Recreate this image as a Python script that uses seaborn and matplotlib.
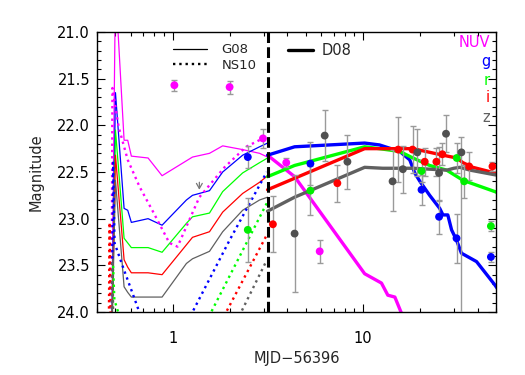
import numpy as np
import pandas as pd
import seaborn as sns
import matplotlib
matplotlib.use("Agg")
import matplotlib.pyplot as plt
from matplotlib import ticker

bands = ["NUV", "g", "r", "i", "z"]
line_colors = {"NUV": "#ff00ff", "g": "#0000ff", "r": "#00ff00", "i": "#ff0000", "z": "#606060"}
point_colors = {"NUV": "#ff00ff", "g": "#0000ff", "r": "#00ee00", "i": "#ff0000", "z": "#505050"}

# G08 models (thin solid), same epochs for every band
g08_t = [0.476, 0.50, 0.555, 0.58, 0.606, 0.742, 0.879, 1.18, 1.27, 1.56, 1.83, 2.33, 2.86, 3.15]
g08_nuv = [24.5, 20.5, 22.16, 22.16, 22.33, 22.35, 22.54, 22.38, 22.34, 22.30, 22.22, 22.26, 22.30, 22.34]
g08_g = [24.5, 21.65, 22.89, 22.91, 23.04, 23.00, 23.07, 22.80, 22.75, 22.70, 22.50, 22.32, 22.23, 22.19]
g08_r = [24.5, 22.05, 23.21, 23.26, 23.31, 23.31, 23.36, 23.05, 22.98, 22.94, 22.71, 22.51, 22.40, 22.35]
g08_i = [24.5, 22.32, 23.44, 23.52, 23.58, 23.58, 23.60, 23.28, 23.20, 23.14, 22.93, 22.73, 22.61, 22.54]
g08_z = [24.5, 22.59, 23.73, 23.79, 23.84, 23.84, 23.84, 23.48, 23.43, 23.35, 23.14, 22.91, 22.80, 22.77]

# NS10 models (dotted)
ns10_t_nuv = [0.476, 0.482, 0.52, 0.58, 0.67, 0.79, 0.96, 1.06, 1.38, 1.87, 2.43, 2.98]
ns10_nuv = [24.5, 21.6, 22.02, 22.37, 22.66, 22.93, 23.26, 23.30, 22.77, 22.45, 22.23, 22.14]
ns10_t_g = [0.476, 0.486, 0.4945, 0.55, 0.60, 0.67, 0.90, 1.27, 1.99, 3.12]
ns10_g = [24.5, 22.4, 23.26, 23.53, 23.74, 24.01, 24.6, 24.0, 23.23, 22.50]
ns10_t_r = [0.476, 0.486, 0.4935, 0.52, 1.0, 1.593, 3.12]
ns10_r = [24.5, 23.5, 23.87, 24.02, 24.6, 24.0, 22.835]
ns10_t_i = [0.46, 0.466, 0.474, 1.2, 1.91, 3.12]
ns10_i = [24.5, 23.04, 24.5, 24.6, 24.0, 23.175]
ns10_t_z = [0.476, 0.482, 0.49, 1.5, 2.29, 3.12]
ns10_z = [24.5, 23.45, 24.5, 24.6, 24.0, 23.445]

# D08 models (thick solid)
d08_t_nuv = [3.15, 4.37, 10.2, 12.5, 13.5, 14.7, 15.9, 17.0]
d08_nuv = [22.32, 22.55, 23.59, 23.69, 23.82, 23.84, 24.01, 24.3]
d08_t_g = [3.15, 4.37, 10.2, 12.2, 15.6, 17.6, 18.7, 19.9, 22.4, 25.3, 26.3, 27.9, 29.2, 31.0, 32.9, 39.5, 49.3, 55]
d08_g = [22.32, 22.23, 22.19, 22.21, 22.28, 22.37, 22.51, 22.60, 22.75, 22.89, 22.96, 22.96, 23.12, 23.23, 23.37, 23.46, 23.71, 23.85]
d08_t_r = [3.15, 4.37, 10.2, 12.2, 15.6, 18.3, 22.4, 27.5, 33.6, 49.3, 55]
d08_r = [22.55, 22.43, 22.23, 22.25, 22.28, 22.35, 22.43, 22.48, 22.59, 22.71, 22.75]
d08_t_i = [3.15, 10.2, 18.3, 26.3, 31.1, 33.5, 37.8, 49.3, 55]
d08_i = [22.69, 22.25, 22.25, 22.32, 22.35, 22.40, 22.45, 22.51, 22.53]
d08_t_z = [3.15, 4.37, 10.2, 12.7, 18.3, 27.6, 30.0, 32.3, 36.5, 49.3, 55]
d08_z = [22.92, 22.77, 22.45, 22.46, 22.46, 22.48, 22.46, 22.45, 22.48, 22.53, 22.54]

# photometry
nuv_t = [1.02, 1.99, 2.98, 3.95, 5.92]
nuv_mag = [21.57, 21.59, 22.14, 22.40, 23.35]
nuv_err = [0.06, 0.07, 0.10, 0.05, 0.12]
g_t = [2.48, 5.29, 20.3, 25.1, 31.0, 47.0]
g_mag = [22.34, 22.41, 22.69, 22.98, 23.21, 23.41]
g_err = [0.12, 0.23, 0.16, 0.18, 0.26, 0.05]
r_t = [2.48, 5.29, 20.3, 31.1, 34.0, 47.0]
r_mag = [23.12, 22.70, 22.49, 22.35, 22.60, 23.08]
r_err = [0.34, 0.26, 0.12, 0.16, 0.18, 0.05]
i_t = [3.36, 7.33, 15.3, 18.2, 21.1, 24.3, 26.1, 36.1, 47.9]
i_mag = [23.06, 22.62, 22.26, 22.26, 22.39, 22.39, 22.31, 22.44, 22.44]
i_err = [0.30, 0.20, 0.35, 0.25, 0.15, 0.15, 0.12, 0.15, 0.05]
z_t = [4.37, 6.29, 8.28, 14.3, 16.2, 19.3, 25.1, 27.3, 32.9]
z_mag = [23.16, 22.11, 22.39, 22.60, 22.47, 22.29, 22.51, 22.09, 22.29]
z_err_lo = [0.63, 0.27, 0.29, 0.34, 0.25, 0.25, 0.28, 0.20, 0.16]
z_err_hi = [0.63, 0.27, 0.29, 0.32, 0.25, 0.25, 0.30, 0.20, 2.0]

limit_t = [1.38]
limit_mag = [22.58]

shock_break = 3.16


def long_form(ts, ms):
    rows = []
    for b, t, m in zip(bands, ts, ms):
        rows.append(pd.DataFrame({"t": t, "mag": m, "band": b}))
    return pd.concat(rows, ignore_index=True)


g08 = long_form([g08_t] * 5, [g08_nuv, g08_g, g08_r, g08_i, g08_z])
ns10 = long_form([ns10_t_nuv, ns10_t_g, ns10_t_r, ns10_t_i, ns10_t_z],
                 [ns10_nuv, ns10_g, ns10_r, ns10_i, ns10_z])
d08 = long_form([d08_t_nuv, d08_t_g, d08_t_r, d08_t_i, d08_t_z],
                [d08_nuv, d08_g, d08_r, d08_i, d08_z])
pts = long_form([nuv_t, g_t, r_t, i_t, z_t], [nuv_mag, g_mag, r_mag, i_mag, z_mag])

sns.set_style("ticks")
plt.rcParams["font.family"] = ["DejaVu Sans"]
plt.rcParams["font.size"] = 10.5

fig = plt.figure(figsize=(5.25, 3.75), dpi=100)
ax = fig.add_axes([0.1848, 0.168, 0.76, 0.7467])

sns.lineplot(data=g08, x="t", y="mag", hue="band", palette=line_colors, sort=False,
             estimator=None, lw=0.9, legend=False, ax=ax)
sns.lineplot(data=ns10, x="t", y="mag", hue="band", palette=line_colors, sort=False,
             estimator=None, lw=1.7, linestyle=":", legend=False, ax=ax)
sns.lineplot(data=d08, x="t", y="mag", hue="band", palette=line_colors, sort=False,
             estimator=None, lw=2.4, legend=False, ax=ax)

ax.axvline(shock_break, color="k", lw=2.2, dashes=(3.5, 1.4), zorder=5)

for t, m, e in [(nuv_t, nuv_mag, nuv_err), (g_t, g_mag, g_err), (r_t, r_mag, r_err),
                (i_t, i_mag, i_err), (z_t, z_mag, [z_err_lo, z_err_hi])]:
    ax.errorbar(t, m, yerr=e, fmt="none", ecolor="#9a9a9a", elinewidth=1,
                capsize=2.2, capthick=1, zorder=3)
sns.scatterplot(data=pts, x="t", y="mag", hue="band", palette=point_colors, s=32,
                edgecolor="none", legend=False, zorder=6, ax=ax)

for t, m in zip(limit_t, limit_mag):
    ax.annotate("", xy=(t, m + 0.14), xytext=(t, m),
                arrowprops=dict(arrowstyle="->,head_length=0.35,head_width=0.2",
                                color="#777777", lw=0.9))

ax.set_xscale("log")
ax.set_xlim(0.4, 50)
ax.set_ylim(24, 21)
ax.set_xticks([1, 10])
ax.set_xticklabels(["1", "10"])
ax.xaxis.set_minor_locator(ticker.LogLocator(subs=np.arange(2, 10)))
ax.xaxis.set_minor_formatter(ticker.NullFormatter())
ax.yaxis.set_major_locator(ticker.MultipleLocator(0.5))
ax.yaxis.set_minor_locator(ticker.MultipleLocator(0.1))
ax.yaxis.set_major_formatter(ticker.FormatStrFormatter("%.1f"))
ax.tick_params(which="both", direction="in", top=True, right=True, width=0.8, colors="k")
ax.tick_params(which="major", length=6)
ax.tick_params(which="minor", length=3)
ax.tick_params(axis="x", pad=14)
ax.tick_params(axis="y", pad=5)
for s in ax.spines.values():
    s.set_linewidth(1)
    s.set_color("k")
ax.set_xlabel("MJD\u221256396", labelpad=3)
ax.set_ylabel("Magnitude", labelpad=10)

# legend
ax.plot([0.19, 0.276], [0.9393, 0.9393], color="k", lw=0.9, transform=ax.transAxes)
ax.text(0.3125, 0.9232, "G08", fontsize=9.5, transform=ax.transAxes)
ax.plot([0.19, 0.276], [0.8857, 0.8857], color="k", lw=1.7, ls=":", transform=ax.transAxes)
ax.text(0.3125, 0.8679, "NS10", fontsize=9.5, transform=ax.transAxes)
ax.plot([0.479, 0.541], [0.936, 0.936], color="k", lw=2.4, transform=ax.transAxes)
ax.text(0.563, 0.918, "D08", transform=ax.transAxes)

for b, y in zip(bands, [0.9475, 0.8786, 0.8107, 0.751, 0.6775]):
    ax.text(0.985, y, b, color=line_colors[b], ha="right", transform=ax.transAxes)

fig.savefig("out.png", dpi=100)
